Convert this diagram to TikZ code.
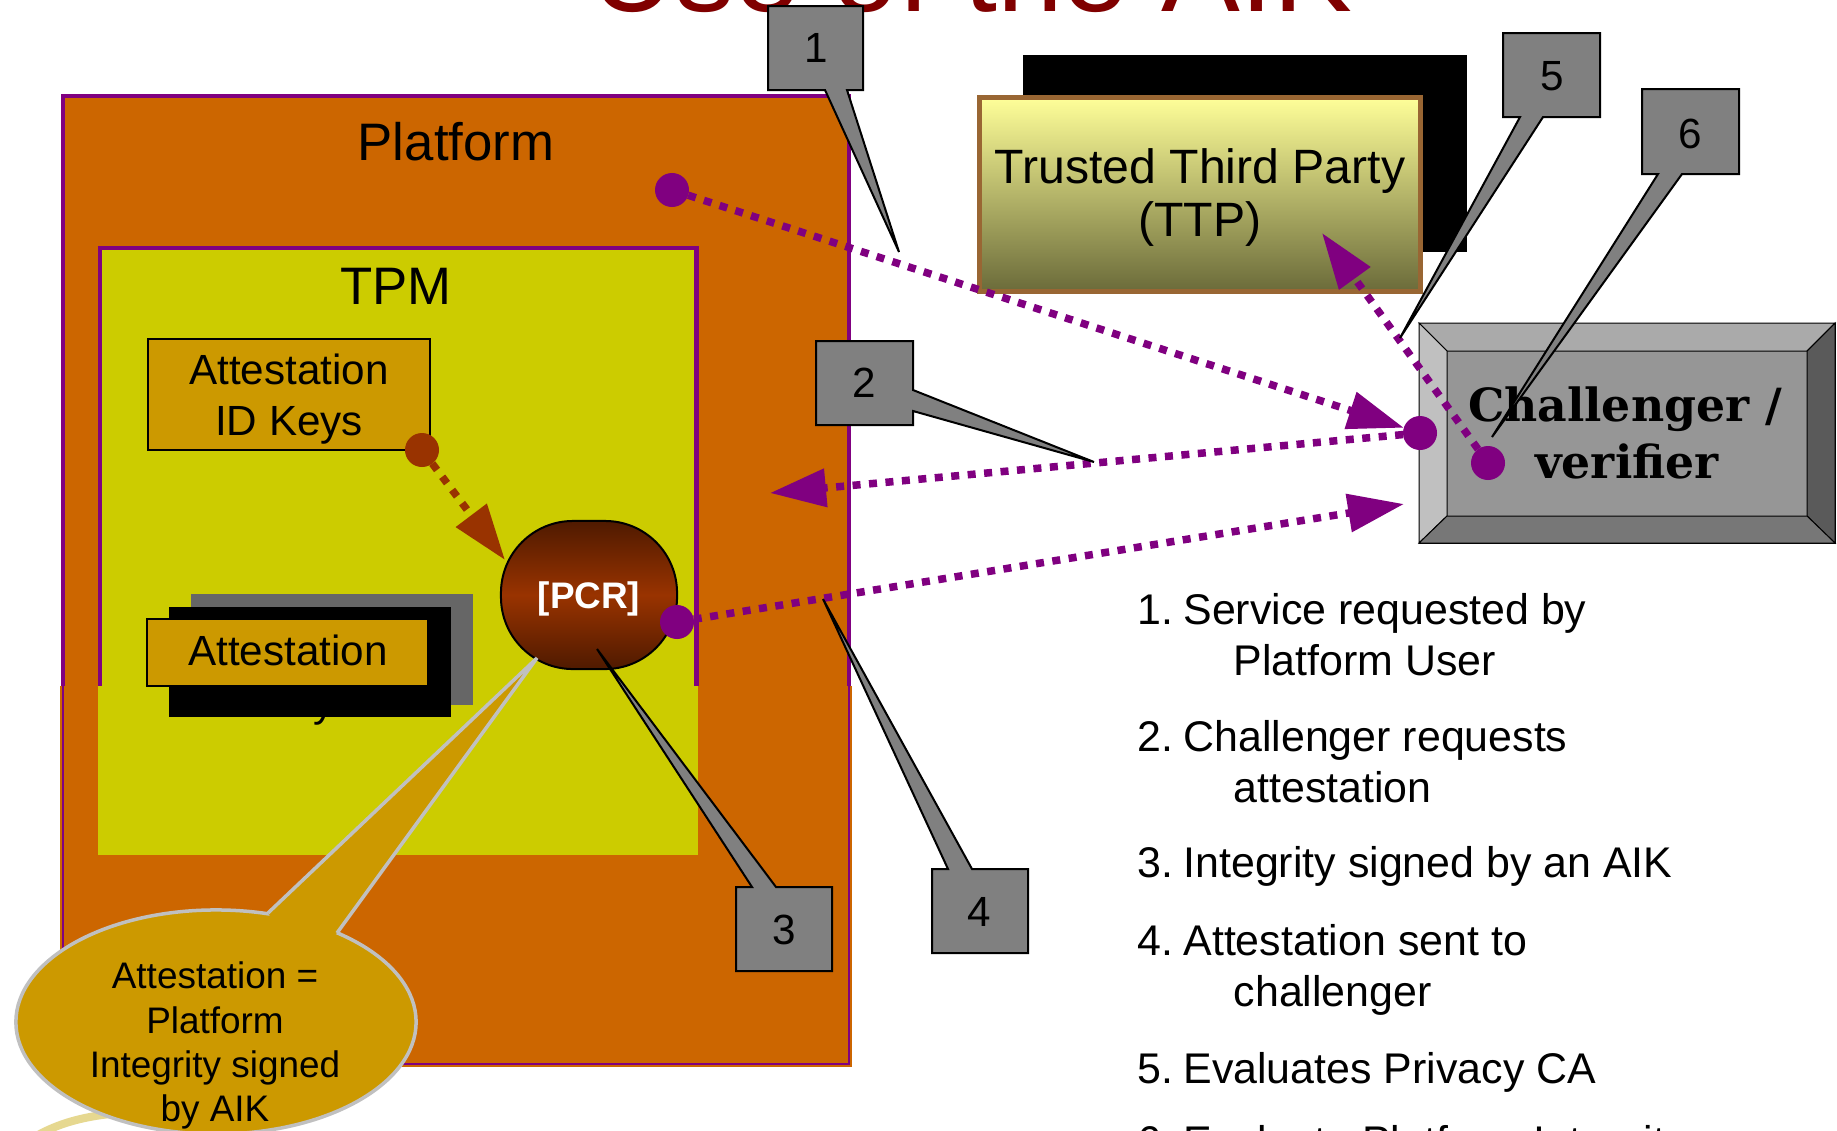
\documentclass[tikz,border=0pt]{standalone}
\usepackage{fontspec}
\setmainfont{Liberation Sans}
\newfontfamily\verifierfont{DejaVu Serif}
\usetikzlibrary{arrows.meta,shapes.geometric}

\definecolor{platorange}{HTML}{CC6600}
\definecolor{tpmyellow}{HTML}{CCCC00}
\definecolor{linkpurple}{HTML}{800080}
\definecolor{keygold}{HTML}{CC9900}
\definecolor{calloutgray}{HTML}{808080}
\definecolor{titlered}{HTML}{800000}
\definecolor{rust}{HTML}{993300}
\definecolor{ttpedge}{HTML}{996633}
\definecolor{ttptop}{HTML}{FFFF99}
\definecolor{ttpbottom}{HTML}{6B6B3A}
\definecolor{pcrdark}{HTML}{4F1A00}
\definecolor{pcrmid}{HTML}{993300}
\definecolor{bubbleedge}{HTML}{C0C0C0}
\definecolor{bevface}{HTML}{969696}
\definecolor{bevtop}{HTML}{AAAAAA}
\definecolor{bevleft}{HTML}{C0C0C0}
\definecolor{bevright}{HTML}{5A5A5A}
\definecolor{bevbottom}{HTML}{777777}
\definecolor{shadowgray}{HTML}{666666}
\definecolor{logoarc}{HTML}{E6D890}

\begin{document}
\begin{tikzpicture}[x=0.01cm, y=-0.01cm,
  box/.style={anchor=north west, inner sep=0, outer sep=0},
  flow/.style={line width=0.075cm, dash pattern=on 0.08cm off 0.085cm, linkpurple},
  tip/.style={-{Triangle[length=0.56cm, width=0.37cm]}},
  dotmark/.style={circle, fill=linkpurple, minimum size=0.34cm, inner sep=0, outer sep=0},
  callout/.style={fill=calloutgray, draw=black, line width=0.02cm, line join=miter},
  calloutnum/.style={font=\fontsize{12}{14}\selectfont, inner sep=0},
  item/.style={font=\fontsize{12.2}{14}\selectfont, anchor=base west, inner sep=0},
  keytext/.style={font=\fontsize{12}{14}\selectfont, anchor=base, inner sep=0},
  bigtext/.style={font=\fontsize{15}{18}\selectfont, anchor=base, inner sep=0},
  ttptext/.style={font=\fontsize{13.7}{16}\selectfont, anchor=base, inner sep=0},
  bubbletext/.style={font=\fontsize{10.5}{12}\selectfont, anchor=base, inner sep=0},
  chaltext/.style={font=\verifierfont\bfseries\fontsize{13}{16}\selectfont, anchor=base, inner sep=0},
  bevel/.style={draw=black, line width=0.01cm},
]
\useasboundingbox (0,0) rectangle (1837,1130);
\fill[white] (0,0) rectangle (1837,1130);

% heading, cut by the top edge
\node[font=\fontsize{33.6}{36}\selectfont, text=titlered, anchor=base, inner sep=0] (title) at (971,11) {Use of the AIK};

% platform with the TPM inside
\node[box, minimum width=7.86cm, minimum height=9.68cm, fill=platorange, draw=linkpurple, line width=0.04cm] (platform) at (63,96) {};
\node[bigtext] (platformlabel) at (456,160) {Platform};
\node[box, minimum width=5.96cm, minimum height=4.5cm, fill=tpmyellow, draw=linkpurple, line width=0.045cm] (tpm) at (100,248) {};
\node[bigtext] (tpmlabel) at (396,304) {TPM};

% lower band of platform and TPM
\fill[platorange] (60,686) rectangle (852,1067);
\draw[linkpurple, line width=0.012cm] (63,686) |- (849,1064) -- (849,686);
\fill[tpmyellow] (98,686) rectangle (698,855);

% attestation identity keys
\node[box, minimum width=2.82cm, minimum height=1.11cm, fill=keygold, draw=black, line width=0.02cm] (idkeys) at (148,339) {};
\node[keytext] (idkeys1) at (289,384) {Attestation};
\node[keytext] (idkeys2) at (289,435) {ID Keys};

% stacked attestation box
\fill[shadowgray] (191,594) rectangle (473,705);
\fill[black] (169,607) rectangle (451,717);
\node[box, minimum width=2.81cm, minimum height=0.67cm, fill=keygold, draw=black, line width=0.02cm] (attest) at (147,619) {};
\node[keytext] (attest1) at (288,665) {Attestation};
\node[keytext] (attest2) at (282,716) {ID Keys};

% faint arc in the lower left corner
\draw[logoarc, line width=0.08cm] (30,1140) .. controls (60,1120) and (100,1112) .. (150,1112);

% platform configuration registers
\node[draw=black, line width=0.02cm, rounded corners=0.72cm, minimum width=1.76cm, minimum height=1.48cm,
      top color=pcrdark, bottom color=pcrdark, middle color=pcrmid, inner sep=0] (pcr) at (589,595) {};
\node[font=\bfseries\fontsize{10.5}{12}\selectfont, text=white, anchor=base, inner sep=0] (pcrlabel) at (589,608) {[PCR]};

% trusted third party
\fill[black] (1023,55) rectangle (1467,252);
\node[box, minimum width=4.41cm, minimum height=1.94cm, top color=ttptop, bottom color=ttpbottom, draw=ttpedge, line width=0.05cm] (ttp) at (979,97) {};
\node[ttptext] (ttp1) at (1200,183) {Trusted Third Party};
\node[ttptext] (ttp2) at (1200,236) {(TTP)};

% challenger, a bevelled button
\node[box, minimum width=4.16cm, minimum height=2.20cm, fill=bevface, draw=black, line width=0.01cm] (chal) at (1419,323) {};
\filldraw[bevel, fill=bevtop] (1419,323) -- (1835,323) -- (1807,351) -- (1447,351) -- cycle;
\filldraw[bevel, fill=bevleft] (1419,323) -- (1447,351) -- (1447,516) -- (1419,543) -- cycle;
\filldraw[bevel, fill=bevright] (1835,323) -- (1835,543) -- (1807,516) -- (1807,351) -- cycle;
\filldraw[bevel, fill=bevbottom] (1419,543) -- (1447,516) -- (1807,516) -- (1835,543) -- cycle;
\node[chaltext] (chal1) at (1625,421) {Challenger /};
\node[chaltext] (chal2) at (1627,478) {verifier};

% message flows
\node[dotmark] (pdot) at (672,190) {};
\node[dotmark] (cdot) at (1420,433) {};
\node[dotmark] (pcrdot) at (677,622) {};
\node[dotmark] (vdot) at (1488,463) {};
\node[dotmark, fill=rust] (kdot) at (422,450) {};
\coordinate (reqend) at (770,493);
\coordinate (attend) at (1404,504);
\coordinate (ttpend) at (1322,233);
\coordinate (pcrin) at (505,560);

\draw[flow, tip] (pdot) -- (cdot);
\draw[flow, tip] (cdot) -- (reqend);
\draw[flow, tip] (pcrdot) -- (attend);
\draw[flow, tip] (vdot) -- (ttpend);
\draw[flow, rust, tip] (kdot) -- (pcrin);

% speech bubble
\node[ellipse, minimum width=4cm, minimum height=2.24cm, fill=keygold, draw=bubbleedge, line width=0.035cm, inner sep=0] (bubble) at (216,1022) {};
\fill[keygold] (268,913) -- (537,658) -- (337,933) -- (300,965) -- cycle;
\draw[bubbleedge, line width=0.035cm, line join=miter] (268,913) -- (537,658) -- (337,933);
\node[bubbletext] (bub1) at (215,988) {Attestation =};
\node[bubbletext] (bub2) at (215,1033) {Platform};
\node[bubbletext] (bub3) at (215,1077) {Integrity signed};
\node[bubbletext] (bub4) at (215,1121) {by AIK};

% numbered callouts
\draw[callout] (768,6) -- (863,6) -- (863,90) -- (847,90) -- (899,252) -- (825,90) -- (768,90) -- cycle;
\node[calloutnum] (c1) at (816,48) {1};
\draw[callout] (816,341) -- (913,341) -- (913,390) -- (1094,462) -- (913,411) -- (913,425) -- (816,425) -- cycle;
\node[calloutnum] (c2) at (864,383) {2};
\draw[callout] (736,887) -- (752,887) -- (597,649) -- (776,887) -- (832,887) -- (832,971) -- (736,971) -- cycle;
\node[calloutnum] (c3) at (784,930) {3};
\draw[callout] (932,869) -- (948,869) -- (823,599) -- (972,869) -- (1028,869) -- (1028,953) -- (932,953) -- cycle;
\node[calloutnum] (c4) at (979,912) {4};
\draw[callout] (1503,33) -- (1600,33) -- (1600,117) -- (1543,117) -- (1400,338) -- (1520,117) -- (1503,117) -- cycle;
\node[calloutnum] (c5) at (1552,76) {5};
\draw[callout] (1642,89) -- (1739,89) -- (1739,174) -- (1682,174) -- (1492,437) -- (1658,174) -- (1642,174) -- cycle;
\node[calloutnum] (c6) at (1690,134) {6};

% steps
\node[item] (s1a) at (1137,624) {1.\hspace{0.1cm}Service requested by};
\node[item] (s1b) at (1233,675) {Platform User};
\node[item] (s2a) at (1137,751) {2.\hspace{0.1cm}Challenger requests};
\node[item] (s2b) at (1233,802) {attestation};
\node[item] (s3) at (1137,877) {3.\hspace{0.1cm}Integrity signed by an AIK};
\node[item] (s4a) at (1137,955) {4.\hspace{0.1cm}Attestation sent to};
\node[item] (s4b) at (1233,1006) {challenger};
\node[item] (s5) at (1137,1083) {5.\hspace{0.1cm}Evaluates Privacy CA};
\node[item] (s6) at (1137,1156) {6.\hspace{0.1cm}Evaluate Platform Integrity};
\end{tikzpicture}
\end{document}
